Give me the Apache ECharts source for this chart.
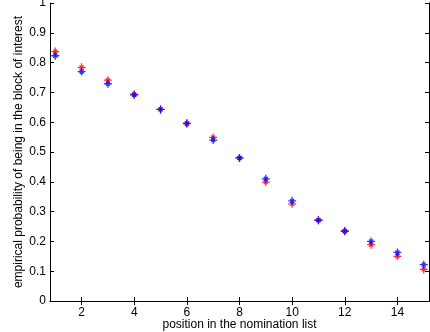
<!DOCTYPE html>
<html><head><meta charset="utf-8">
<script src="https://cdn.jsdelivr.net/npm/echarts@6/dist/echarts.min.js"></script>
<style>html,body{margin:0;padding:0;background:#fff}#c{width:430px;height:332px}</style>
</head><body><div id="c"></div>
<script>
const positions = [1,2,3,4,5,6,7,8,9,10,11,12,13,14,15];
const redValues  = [0.837,0.784,0.741,0.693,0.643,0.597,0.549,0.480,0.399,0.326,0.271,0.235,0.189,0.150,0.106];
const blueValues = [0.823,0.770,0.729,0.692,0.643,0.595,0.540,0.480,0.410,0.336,0.271,0.234,0.200,0.163,0.122];
const xTicks = [2,4,6,8,10,12,14];
const xLabel = 'position in the nomination list';
const yLabel = 'empirical probability of being in the block of interest';

const star = 'path://M5,0L5,10M0,5L10,5M2.5,2.5L7.5,7.5M7.5,2.5L2.5,7.5';
const font = 'Liberation Sans';
const chart = echarts.init(document.getElementById('c'), null, {renderer:'canvas'});
const axisLine = {show:true, lineStyle:{color:'#000', width:1}};
chart.setOption({
  animation:false,
  grid:{left:50, right:1, top:3, bottom:31, outerBoundsMode:'none', containLabel:false},
  xAxis:[{
    type:'value', min:0.8, max:15.2, interval:2,
    axisLine, splitLine:{show:false},
    axisTick:{show:true, inside:true, length:4, lineStyle:{color:'#000'}, customValues:xTicks},
    axisLabel:{color:'#000', fontFamily:font, fontSize:12, margin:6, customValues:xTicks},
    name:xLabel, nameLocation:'middle', nameGap:18, nameMoveOverlap:false,
    nameTextStyle:{color:'#000', fontFamily:font, fontSize:12}
  },{
    type:'value', position:'top', min:0.8, max:15.2,
    axisLine, splitLine:{show:false},
    axisTick:{show:true, inside:true, length:4, lineStyle:{color:'#000'}, customValues:xTicks},
    axisLabel:{show:false}
  }],
  yAxis:[{
    type:'value', min:0, max:1, interval:0.1,
    axisLine, splitLine:{show:false},
    axisTick:{show:true, inside:true, length:4, lineStyle:{color:'#000'}},
    axisLabel:{color:'#000', fontFamily:font, fontSize:12, margin:4,
      formatter:v=>String(Math.round(v*10)/10)},
    name:yLabel, nameLocation:'middle', nameGap:25, nameMoveOverlap:false,
    nameTextStyle:{color:'#000', fontFamily:font, fontSize:12}
  },{
    type:'value', position:'right', min:0, max:1, interval:0.1,
    axisLine, splitLine:{show:false},
    axisTick:{show:true, inside:true, length:4, lineStyle:{color:'#000'}},
    axisLabel:{show:false}
  }],
  series:[{
    type:'scatter', data:positions.map((p,i)=>[p, redValues[i]]),
    symbol:star, symbolSize:8, itemStyle:{color:'transparent', borderColor:'#ff0000', borderWidth:1.3}
  },{
    type:'scatter', data:positions.map((p,i)=>[p, blueValues[i]]),
    symbol:star, symbolSize:8, itemStyle:{color:'transparent', borderColor:'#0000ff', borderWidth:1.3}
  }]
});
</script></body></html>
